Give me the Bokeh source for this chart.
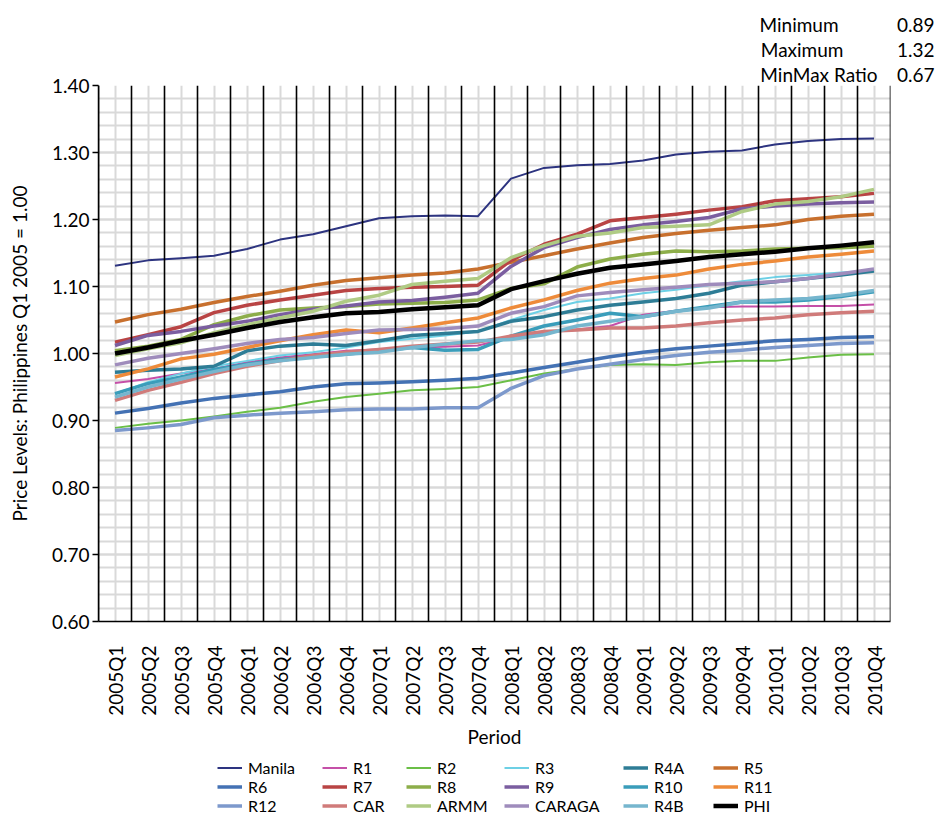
import math
from bokeh.plotting import figure
from bokeh.layouts import column
from bokeh.models import (FactorRange, Range1d, FixedTicker, PrintfTickFormatter,
                          Span, Legend, LegendItem, Title)
from bokeh.embed import file_html
from bokeh.resources import INLINE

periods = ["2005Q1", "2005Q2", "2005Q3", "2005Q4", "2006Q1", "2006Q2", "2006Q3", "2006Q4",
           "2007Q1", "2007Q2", "2007Q3", "2007Q4", "2008Q1", "2008Q2", "2008Q3", "2008Q4",
           "2009Q1", "2009Q2", "2009Q3", "2009Q4", "2010Q1", "2010Q2", "2010Q3", "2010Q4"]

manila = [1.131, 1.139, 1.142, 1.146, 1.156, 1.170, 1.178, 1.190, 1.202, 1.205, 1.206, 1.205,
          1.261, 1.277, 1.281, 1.283, 1.288, 1.297, 1.301, 1.303, 1.312, 1.317, 1.320, 1.321]
r1 = [0.956, 0.962, 0.970, 0.977, 0.987, 0.994, 0.999, 1.004, 1.006, 1.009, 1.010, 1.012,
      1.024, 1.031, 1.036, 1.041, 1.058, 1.064, 1.069, 1.070, 1.070, 1.071, 1.071, 1.073]
r2 = [0.889, 0.895, 0.900, 0.906, 0.913, 0.919, 0.928, 0.935, 0.940, 0.945, 0.947, 0.950,
      0.960, 0.970, 0.977, 0.983, 0.984, 0.983, 0.987, 0.989, 0.989, 0.994, 0.998, 0.999]
r3 = [0.940, 0.957, 0.970, 0.981, 0.989, 0.997, 1.002, 1.009, 1.017, 1.022, 1.027, 1.033,
      1.050, 1.065, 1.077, 1.082, 1.090, 1.095, 1.102, 1.108, 1.114, 1.117, 1.121, 1.124]
r4a = [0.972, 0.975, 0.977, 0.981, 1.004, 1.011, 1.014, 1.012, 1.019, 1.027, 1.030, 1.033,
       1.048, 1.055, 1.065, 1.072, 1.077, 1.082, 1.090, 1.102, 1.107, 1.112, 1.117, 1.123]
r5 = [1.047, 1.058, 1.066, 1.076, 1.085, 1.093, 1.102, 1.109, 1.113, 1.117, 1.120, 1.126,
      1.136, 1.146, 1.156, 1.165, 1.173, 1.179, 1.184, 1.188, 1.192, 1.200, 1.205, 1.208]
r6 = [0.911, 0.918, 0.926, 0.933, 0.938, 0.943, 0.950, 0.955, 0.956, 0.958, 0.960, 0.963,
      0.971, 0.979, 0.987, 0.995, 1.002, 1.007, 1.011, 1.015, 1.019, 1.021, 1.024, 1.025]
r7 = [1.017, 1.028, 1.040, 1.061, 1.072, 1.080, 1.087, 1.094, 1.097, 1.099, 1.100, 1.102,
      1.139, 1.163, 1.178, 1.198, 1.203, 1.208, 1.214, 1.219, 1.228, 1.231, 1.234, 1.239]
r8 = [1.004, 1.011, 1.021, 1.043, 1.056, 1.065, 1.068, 1.070, 1.074, 1.075, 1.076, 1.080,
      1.097, 1.104, 1.129, 1.141, 1.148, 1.153, 1.152, 1.153, 1.156, 1.157, 1.158, 1.160]
r9 = [1.012, 1.027, 1.033, 1.041, 1.048, 1.058, 1.066, 1.071, 1.077, 1.079, 1.084, 1.090,
      1.130, 1.158, 1.173, 1.185, 1.192, 1.197, 1.203, 1.216, 1.220, 1.223, 1.225, 1.226]
r10 = [0.940, 0.955, 0.965, 0.976, 0.984, 0.991, 0.995, 0.999, 1.004, 1.009, 1.005, 1.006,
       1.026, 1.041, 1.050, 1.060, 1.055, 1.063, 1.070, 1.077, 1.077, 1.080, 1.085, 1.092]
r11 = [0.965, 0.977, 0.992, 0.999, 1.009, 1.019, 1.028, 1.035, 1.031, 1.038, 1.046, 1.053,
       1.068, 1.080, 1.094, 1.105, 1.112, 1.117, 1.126, 1.133, 1.138, 1.144, 1.148, 1.153]
r12 = [0.885, 0.889, 0.894, 0.904, 0.908, 0.911, 0.913, 0.916, 0.917, 0.917, 0.919, 0.919,
       0.948, 0.967, 0.977, 0.984, 0.991, 0.997, 1.002, 1.005, 1.009, 1.012, 1.015, 1.016]
car = [0.930, 0.945, 0.957, 0.970, 0.981, 0.989, 0.997, 1.002, 1.006, 1.011, 1.014, 1.017,
       1.026, 1.033, 1.035, 1.038, 1.038, 1.041, 1.046, 1.050, 1.053, 1.058, 1.061, 1.063]
armm = [0.997, 1.007, 1.016, 1.031, 1.043, 1.053, 1.063, 1.078, 1.087, 1.103, 1.108, 1.112,
        1.143, 1.161, 1.175, 1.180, 1.188, 1.190, 1.192, 1.212, 1.223, 1.227, 1.234, 1.245]
caraga = [0.983, 0.993, 1.000, 1.007, 1.015, 1.021, 1.024, 1.030, 1.035, 1.036, 1.037, 1.041,
          1.060, 1.070, 1.086, 1.091, 1.095, 1.099, 1.103, 1.105, 1.107, 1.112, 1.119, 1.126]
r4b = [0.935, 0.950, 0.962, 0.973, 0.983, 0.989, 0.994, 0.999, 1.002, 1.009, 1.014, 1.019,
       1.021, 1.028, 1.041, 1.048, 1.055, 1.063, 1.068, 1.077, 1.080, 1.082, 1.087, 1.094]
phi = [1.000, 1.009, 1.019, 1.028, 1.038, 1.047, 1.054, 1.060, 1.062, 1.066, 1.069, 1.072,
       1.096, 1.108, 1.119, 1.128, 1.133, 1.138, 1.144, 1.148, 1.152, 1.157, 1.161, 1.166]

series_names = ["Manila", "R1", "R2", "R3", "R4A", "R5",
                "R6", "R7", "R8", "R9", "R10", "R11",
                "R12", "CAR", "ARMM", "CARAGA", "R4B", "PHI"]
series_values = [manila, r1, r2, r3, r4a, r5, r6, r7, r8, r9, r10, r11,
                 r12, car, armm, caraga, r4b, phi]
series_colors = ["#2D3480", "#C550A8", "#6BBF47", "#6DD0E5", "#2E7D96", "#C8702E",
                 "#4472B4", "#B94444", "#8DAE4A", "#7B5EA0", "#3A9DBA", "#EE8B3A",
                 "#7D99CC", "#D07B7A", "#AFCB84", "#9F8CBC", "#76B6CE", "#000000"]
series_widths = [2, 2, 2, 2, 3.5, 3.5, 3.5, 3.5, 3.5, 3.5, 3.5, 3.5,
                 3.5, 3.5, 3.5, 3.5, 3.5, 4.5]

y_ticks = [0.60, 0.70, 0.80, 0.90, 1.00, 1.10, 1.20, 1.30, 1.40]
y_minor = [round(0.60 + 0.02 * i, 2) for i in range(41)]

stat_names = ["Minimum", "Maximum", "MinMax Ratio"]
stat_values = ["0.89", "1.32", "0.67"]
stat_pad = [12, 11, 4]   # non-breaking spaces to align the two columns

FONT = "Lato"
FS = "19px"
LEFT, RIGHT = 98, 47

p = figure(x_range=FactorRange(*periods), y_range=Range1d(0.6, 1.4),
           width=937, height=750, output_backend="svg", toolbar_location=None,
           min_border_left=LEFT, min_border_right=RIGHT, min_border_top=85,
           min_border_bottom=120)
p.outline_line_color = None

# grid
p.xgrid.grid_line_color = "#d9d9d9"
p.xgrid.grid_line_width = 2
p.ygrid.ticker = FixedTicker(ticks=y_ticks, minor_ticks=y_minor)
p.ygrid.grid_line_color = "#d9d9d9"
p.ygrid.grid_line_width = 2
p.ygrid.minor_grid_line_color = "#d9d9d9"
p.ygrid.minor_grid_line_width = 2

# category boundary lines
for i in range(len(periods) + 1):
    p.add_layout(Span(location=i, dimension="height", line_color="black", line_width=1.6))

for name, vals, col, w in zip(series_names, series_values, series_colors, series_widths):
    p.line(x=periods, y=vals, line_color=col, line_width=w, line_join="round")

# axes
yax = p.yaxis[0]
yax.ticker = FixedTicker(ticks=y_ticks)
yax.formatter = PrintfTickFormatter(format="%.2f")
yax.axis_label = "Price Levels: Philippines Q1 2005 = 1.00"
yax.axis_label_text_font = FONT
yax.axis_label_text_font_size = FS
yax.axis_label_text_font_style = "normal"
yax.axis_label_text_color = "black"
yax.axis_label_standoff = 18
yax.major_label_text_font = FONT
yax.major_label_text_font_size = FS
yax.major_label_text_color = "black"
yax.major_tick_out = 6
yax.major_tick_in = 0
yax.minor_tick_line_color = None
yax.axis_line_color = "black"
yax.axis_line_width = 1.5
yax.major_tick_line_width = 1.5
yax.major_label_standoff = 3

xax = p.xaxis[0]
xax.axis_label = "Period"
xax.axis_label_text_font = FONT
xax.axis_label_text_font_size = FS
xax.axis_label_text_font_style = "normal"
xax.axis_label_text_color = "black"
xax.axis_label_standoff = 6
xax.major_label_orientation = math.pi / 2
xax.major_label_text_font = FONT
xax.major_label_text_font_size = FS
xax.major_label_text_color = "black"
xax.major_tick_line_color = None
xax.major_tick_out = 0
xax.major_tick_in = 0
xax.major_label_standoff = 24
xax.axis_line_color = "black"
xax.axis_line_width = 1.5

# stats block (top right), the one nearest the frame added first
for nm, vl, pad in reversed(list(zip(stat_names, stat_values, stat_pad))):
    p.add_layout(Title(text=nm + "\u00a0" * pad + vl, align="right", offset=-44,
                       text_font=FONT, text_font_size=FS, text_font_style="normal",
                       text_color="black", standoff=0), "above")

# legend figure: 6 columns x 3 rows, one legend per entry
lf = figure(width=937, height=65, output_backend="svg", toolbar_location=None,
            x_range=FactorRange(*periods), y_range=Range1d(10, 11),
            x_axis_type=None, y_axis_type=None,
            min_border_left=LEFT, min_border_right=RIGHT, min_border_top=0,
            min_border_bottom=0)
lf.outline_line_color = None
lf.grid.visible = False
# same series, drawn out of the visible range: only their legend samples show
legend_src = [lf.line(x=periods, y=vals, line_color=c, line_width=w)
              for vals, c, w in zip(series_values, series_colors, series_widths)]

col_x = [217, 322, 406, 504, 623, 713]
row_bottom = [38, 19, 0]
for k, name in enumerate(series_names):
    rr, cc = divmod(k, 6)
    leg = Legend(items=[LegendItem(label=name, renderers=[legend_src[k]])],
                 location=(col_x[cc] - LEFT, row_bottom[rr]), orientation="vertical",
                 glyph_width=25, glyph_height=19, label_standoff=6, label_height=19,
                 spacing=0, padding=0, margin=0, border_line_color=None,
                 background_fill_alpha=0, label_text_font=FONT,
                 label_text_font_size="16px", label_text_color="black")
    lf.add_layout(leg)

open("out.html", "w").write(file_html(column(p, lf, spacing=0), INLINE))
